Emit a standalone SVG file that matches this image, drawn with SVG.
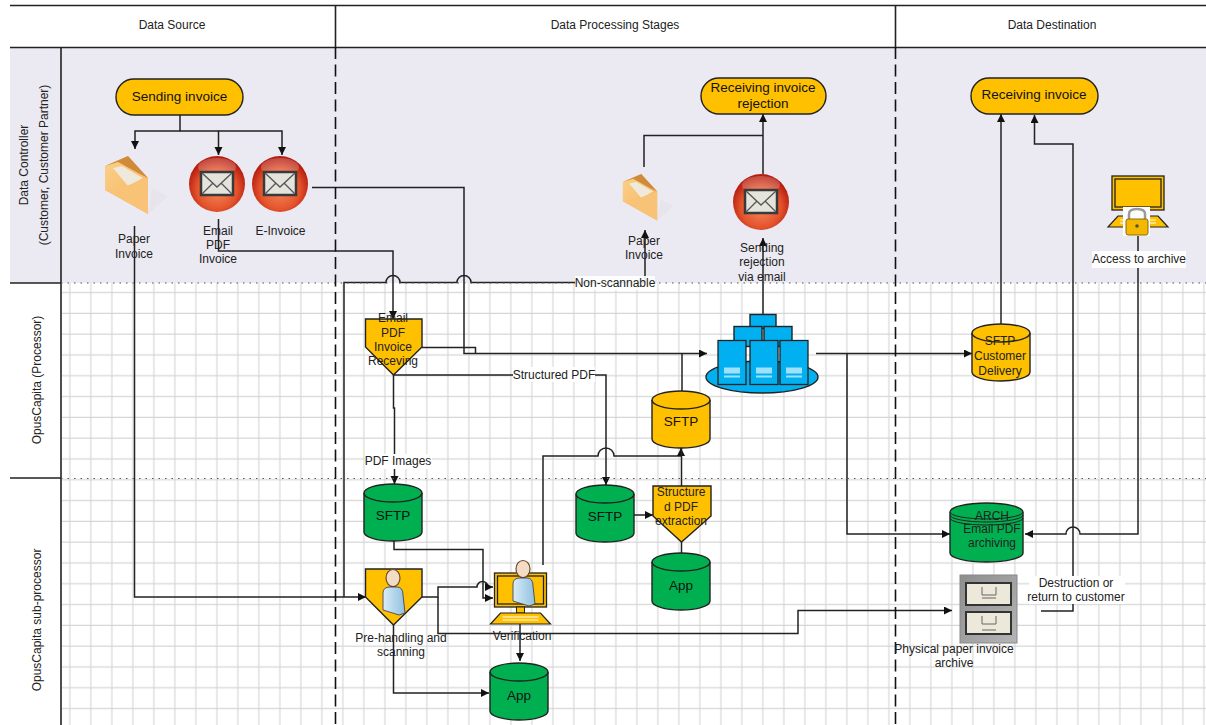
<svg xmlns="http://www.w3.org/2000/svg" width="1206" height="725" viewBox="0 0 1206 725">
<style>
text{font-family:"Liberation Sans",Arial,sans-serif;font-size:12px;fill:#222;text-anchor:middle}
.big{font-size:13.5px;fill:#111}
.frame{stroke:#222;stroke-width:1.6;fill:none}
.dash{stroke:#111;stroke-width:1.6;fill:none;stroke-dasharray:12 5.5}
.dot{stroke:#555;stroke-width:1.2;fill:none;stroke-dasharray:1.5 5}
.c{stroke:#222;stroke-width:1.5;fill:none}
.a{marker-end:url(#arrow)}
.s{stroke:#222;stroke-width:1.4}
.y{fill:#ffc000}
.g{fill:#00b050}
.b{fill:#00b0f0}
.w{fill:#fff}
</style>
<defs>
<pattern id="grid" patternUnits="userSpaceOnUse" x="7.500" y="2" width="21" height="20.8">
<path d="M20.500 0V20.8M0 20.300H21" stroke="#d6d6d6" stroke-width="1.300" fill="none"/>
</pattern>
<marker id="arrow" markerUnits="userSpaceOnUse" markerWidth="10" markerHeight="10" refX="8" refY="4" orient="auto">
<path d="M0 0L8 4L0 8Z" fill="#111"/>
</marker>
<radialGradient id="red" cx="0.5" cy="0.6" r="0.55">
<stop offset="0" stop-color="#f58a5c"/><stop offset="0.65" stop-color="#e4532c"/><stop offset="1" stop-color="#b51d10"/>
</radialGradient>
<linearGradient id="env" x1="0" y1="0" x2="1" y2="1">
<stop offset="0" stop-color="#fbd08a"/><stop offset="1" stop-color="#f4b45e"/>
</linearGradient>
<linearGradient id="shirt" x1="0" y1="0" x2="1" y2="0">
<stop offset="0" stop-color="#d8ecf7"/><stop offset="1" stop-color="#8fc0df"/>
</linearGradient>
<linearGradient id="steel" x1="0" y1="0" x2="1" y2="1">
<stop offset="0" stop-color="#8d8d8d"/><stop offset="1" stop-color="#b5b5b5"/>
</linearGradient>
<g id="cyl">
<path class="s" d="M0 9V48A29 9 0 0 0 58 48V9A29 9 0 0 0 0 9Z"/>
<path d="M0 9A29 9 0 0 0 58 9" fill="none" stroke="#222" stroke-width="1.400"/>
</g>
<g id="mail">
<circle r="28" fill="url(#red)"/>
<ellipse cx="0" cy="-17" rx="19" ry="9" fill="#fff" opacity="0.22"/>
<rect x="-16" y="-12" width="32" height="23" fill="#e4e4dc" stroke="#3a3a3a" stroke-width="2.500"/>
<path d="M-15 -11L0 3L15 -11M-15 10L-4 -1M15 10L4 -1" fill="none" stroke="#555" stroke-width="1.300"/>
</g>
<g id="envelope">
<path d="M1 10L24 0L44 22V58L1 34Z" fill="url(#env)"/>
<path d="M1 10L24 0L44 22L36 18L14 6Z" fill="#cf8a3a"/>
<path d="M9 12L18 10L39 22L24 30Z" fill="#efe9dc"/>
<path d="M44 22V58L1 34L22 30Z" fill="#f8c277"/>
<path d="M44 58L64 40L48 32Z" fill="#ddd" opacity="0.3"/>
</g>
<g id="person">
<ellipse cx="0" cy="-15" rx="7" ry="8.500" fill="#f4dcc4" stroke="#6b4a2a" stroke-width="1.200"/>
<path d="M-10 17V0Q-10 -6 -3 -6H4Q10 -6 10 2L12 20L6 22Z" fill="url(#shirt)" stroke="#335" stroke-width="0.800"/>
</g>
<g id="screen">
<rect x="0" y="0" width="52" height="34" class="y" stroke="#222" stroke-width="1.300"/>
<rect x="3" y="3" width="46" height="28" class="y" stroke="#222" stroke-width="1.300"/>
<rect x="22" y="34" width="8" height="6" class="y" stroke="#222"/>
<path d="M6 40H46L56 51H-4Z" class="y" stroke="#222" stroke-width="1.200"/>
<path d="M8 44H44M8 47H44" stroke="#ffe9a8" stroke-width="1.500"/>
</g>
<g id="srv">
<rect width="28" height="44" class="b" stroke="#222" stroke-width="1.300"/>
<rect x="6" y="27" width="16" height="6" fill="#9fe0fa"/>
<rect x="6" y="35" width="16" height="2" fill="#9fe0fa"/>
</g>
</defs>

<g id="background">
<rect x="10" y="47" width="1196" height="236" fill="#ebe9f1"/>
<rect x="62" y="283" width="1144" height="442" fill="url(#grid)"/>
</g>

<g id="connectors">
<path class="c a" d="M180 115V131H135V149"/>
<path class="c a" d="M180 131H218.500V155"/>
<path class="c a" d="M218.500 131H282V155"/>
<path class="c a" d="M134.500 226V597H366"/>
<path class="c a" d="M218.500 219V251H393V319"/>
<path class="c a" d="M312 187.500H464V353.500H707"/>
<path class="c" d="M422 347.500H475.500V353.500"/>
<path class="c a" d="M344 597V282.500H386A7 7 0 0 1 400 282.500H457A7 7 0 0 1 471 282.500H645V230"/>
<path class="c" d="M644 167V135.500H763"/>
<path class="c a" d="M763 174V114"/>
<path class="c a" d="M763 314V238"/>
<path class="c" d="M682 391V353.500"/>
<path class="c a" d="M393.500 375H606V485"/>
<path class="c a" d="M393.500 375V408H394.500V484"/>
<path class="c a" d="M543 565V456H598A8 8 0 0 1 614 456H681V448"/>
<path class="c" d="M681.500 486V448"/>
<path class="c a" d="M394 541V549.500H483V598H493"/>
<path class="c a" d="M422 597H438V587H477A5.500 5.500 0 0 1 488 587H493"/>
<path class="c a" d="M438 597V633.500H798V610.500H952"/>
<path class="c a" d="M634 515H653"/>
<path class="c a" d="M681.500 542V561"/>
<path class="c a" d="M393.500 625V693H489"/>
<path class="c a" d="M520 624V661"/>
<path class="c a" d="M816 353.500H972"/>
<path class="c a" d="M847 353.500V534H950"/>
<path class="c a" d="M1001 324V114"/>
<path class="c a" d="M1138 236V534H1080A7 7 0 0 0 1066 534H1025"/>
<path class="c a" d="M1041 611H1073V144H1034.500V115"/>
</g>

<g id="frame">
<path class="frame" d="M10 5.500H1206M10 47.500H1206M335.500 5V47M895.500 5V47M61 47V725M10 283H61M10 478H61"/>
<path class="dot" d="M61 283H1206M61 478.500H1206"/>
<path class="dash" d="M335.500 47V725M895.500 47V725"/>
</g>

<g id="headers">
<text x="172" y="29">Data Source</text>
<text x="615" y="29">Data Processing Stages</text>
<text x="1052" y="29">Data Destination</text>
<text transform="translate(28 165) rotate(-90)">Data Controller</text>
<text transform="translate(48 165) rotate(-90)">(Customer, Customer Partner)</text>
<text transform="translate(41 380) rotate(-90)">OpusCapita (Processor)</text>
<text transform="translate(41 620) rotate(-90)">OpusCapita sub-processor</text>
</g>

<g id="sending-invoice">
<rect class="y s" x="116" y="79" width="127" height="36" rx="18"/>
<text class="big" x="179.500" y="101">Sending invoice</text>
</g>
<g id="paper-invoice">
<use href="#envelope" x="104" y="156"/>
<text x="134" y="243">Paper</text><text x="134" y="258">Invoice</text>
</g>
<g id="email-pdf-invoice">
<use href="#mail" x="217" y="184"/>
<text x="218" y="235">Email</text><text x="218" y="249">PDF</text><text x="218" y="263">Invoice</text>
</g>
<g id="e-invoice">
<use href="#mail" x="280" y="184"/>
<text x="280.500" y="235">E-Invoice</text>
</g>
<g id="receiving-rejection">
<rect class="y s" x="701" y="78" width="125" height="36" rx="18"/>
<text class="big" x="763" y="92">Receiving invoice</text>
<text class="big" x="763" y="108">rejection</text>
</g>
<g id="paper-invoice-2">
<use href="#envelope" transform="translate(622 174) scale(0.8)"/>
<text x="644" y="245">Paper</text><text x="644" y="259">Invoice</text>
</g>
<g id="sending-rejection">
<use href="#mail" x="761" y="202"/>
<text x="762" y="252">Sending</text><text x="762" y="266">rejection</text><text x="762" y="281">via email</text>
</g>
<g id="non-scannable-label">
<rect class="w" x="575" y="276" width="80" height="14" opacity="0.9"/>
<text x="615" y="287">Non-scannable</text>
</g>
<g id="receiving-invoice">
<rect class="y s" x="971" y="78" width="127" height="36" rx="18"/>
<text class="big" x="1034" y="99">Receiving invoice</text>
</g>
<g id="access-archive">
<use href="#screen" x="1112" y="176"/>
<rect class="w" x="1123" y="207" width="27" height="29"/>
<path d="M1129 220V214Q1129 209 1137 209Q1145 209 1145 214V220" fill="none" stroke="#9a9a9a" stroke-width="2.500"/>
<rect x="1126" y="219" width="22" height="16" rx="2" fill="#f5b800" stroke="#8a6a10"/>
<circle cx="1137" cy="226" r="1.800" fill="#553"/>
<rect class="w" x="1092" y="251" width="94" height="17"/>
<text x="1139" y="263">Access to archive</text>
</g>
<g id="email-pdf-receiving">
<path class="y s" d="M365.500 319H422V347L393.500 375L365.500 347Z"/>
<text x="393" y="322">Email</text><text x="393" y="337">PDF</text><text x="393" y="351">Invoice</text><text x="393" y="365">Receving</text>
</g>
<g id="server-farm">
<ellipse class="b s" cx="762" cy="377" rx="56" ry="16"/>
<rect class="b s" x="750" y="314.500" width="26" height="14"/>
<rect class="b s" x="734" y="326.500" width="28" height="20"/>
<rect class="b s" x="764" y="326.500" width="28" height="20"/>
<use href="#srv" x="718" y="340.500"/>
<use href="#srv" x="750" y="340.500"/>
<use href="#srv" x="780" y="340.500"/>
</g>
<g id="structured-pdf-label">
<rect class="w" x="513" y="367" width="82" height="15"/>
<text x="554" y="379">Structured PDF</text>
</g>
<g id="sftp-orange" class="y">
<use href="#cyl" x="652" y="391"/>
<text class="big" x="681" y="426">SFTP</text>
</g>
<g id="pdf-images-label">
<rect class="w" x="365" y="454" width="67" height="15"/>
<text x="398" y="465">PDF Images</text>
</g>
<g id="sftp-green-1" class="g">
<use href="#cyl" x="364" y="484"/>
<text class="big" x="393" y="520">SFTP</text>
</g>
<g id="sftp-green-2" class="g">
<use href="#cyl" x="576" y="485"/>
<text class="big" x="605" y="521">SFTP</text>
</g>
<g id="structured-pdf-extraction">
<path class="y s" d="M653 486H711V516L681.500 542L653 516Z"/>
<text x="681" y="496">Structure</text><text x="681" y="511">d PDF</text><text x="681" y="525">extraction</text>
</g>
<g id="app-1" class="g">
<use href="#cyl" x="652" y="553"/>
<text class="big" x="681" y="590">App</text>
</g>
<g id="pre-handling">
<path class="y s" d="M365.500 569H422V597L393.500 625L365.500 597Z"/>
<use href="#person" x="393" y="593"/>
<text x="401" y="642">Pre-handling and</text><text x="401" y="656">scanning</text>
</g>
<g id="verification">
<use href="#screen" x="494.500" y="573"/>
<use href="#person" x="523" y="584"/>
<text x="522" y="640">Verification</text>
</g>
<g id="app-2" class="g">
<use href="#cyl" x="490" y="663"/>
<text class="big" x="519" y="700">App</text>
</g>
<g id="sftp-customer-delivery" class="y">
<use href="#cyl" x="972" y="324"/>
<text x="1000" y="345">SFTP</text><text x="1000" y="360">Customer</text><text x="1000" y="375">Delivery</text>
</g>
<g id="arch" class="g">
<path class="s" d="M950 512V553A36.500 9 0 0 0 1023 553V512A36.500 9 0 0 0 950 512Z"/>
<path d="M950 512A36.500 7 0 0 0 1023 512M950 515A36.500 7 0 0 0 1023 515M950 518A36.500 7 0 0 0 1023 518" fill="none" stroke="#222"/>
<text x="992" y="520">ARCH</text><text x="992" y="533">Email PDF</text><text x="992" y="547">archiving</text>
</g>
<g id="paper-archive">
<rect x="960" y="575" width="57" height="68" fill="url(#steel)" stroke="#888"/>
<rect x="966" y="583" width="45" height="22" fill="#ece9da" stroke="#333" stroke-width="2"/>
<rect x="966" y="612" width="45" height="22" fill="#ece9da" stroke="#333" stroke-width="2"/>
<path d="M982 587V595H996V587M982 598H996M982 616V624H996V616M982 630H996" fill="none" stroke="#666"/>
<text x="954" y="653">Physical paper invoice</text><text x="954" y="667">archive</text>
</g>
<g id="destruction-label">
<rect class="w" x="1029" y="576" width="96" height="28"/>
<text x="1076" y="587">Destruction or</text><text x="1076" y="601">return to customer</text>
</g>
</svg>
